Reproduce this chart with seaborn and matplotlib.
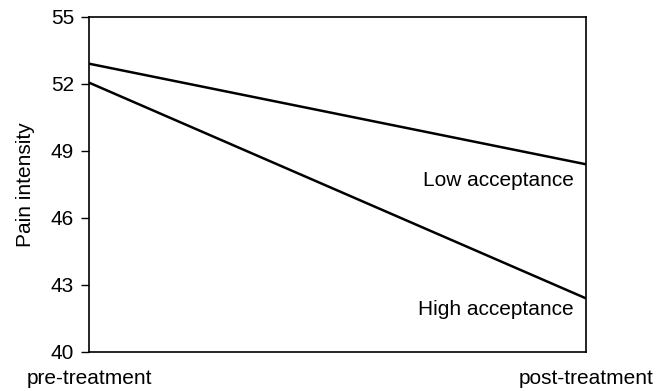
import pandas as pd
import matplotlib.pyplot as plt
import seaborn as sns

# values
phases = ['pre-treatment', 'post-treatment']
low_acceptance = [52.9, 48.4]
high_acceptance = [52.05, 42.4]
y_ticks = [40, 43, 46, 49, 52, 55]

df = pd.DataFrame({
    'phase': [0, 1, 0, 1],
    'pain': low_acceptance + high_acceptance,
    'group': ['Low acceptance'] * 2 + ['High acceptance'] * 2,
})

sns.set_style('white')
plt.rcParams['font.family'] = ['Liberation Sans', 'DejaVu Sans']
for k in ['text.color', 'axes.labelcolor', 'xtick.color', 'ytick.color']:
    plt.rcParams[k] = 'black'

fig, ax = plt.subplots(figsize=(6.56, 3.91), dpi=100)
sns.lineplot(data=df, x='phase', y='pain', units='group', estimator=None,
             color='black', linewidth=1.8, ax=ax, legend=False)

ax.set_xlim(0, 1)
ax.set_ylim(40, 55)
ax.set_yticks(y_ticks)
ax.set_xticks([0, 1])
ax.set_xticklabels(phases)
ax.tick_params(axis='x', length=0, pad=12, labelsize=15)
ax.tick_params(axis='y', length=6, width=1, left=True, labelsize=15, pad=5)
ax.set_xlabel('')
ax.set_ylabel('Pain intensity', fontsize=15, labelpad=11)

for s in ax.spines.values():
    s.set_color('black')
    s.set_linewidth(1.2)

ax.text(0.976, 47.66, 'Low acceptance', ha='right', va='center', fontsize=15)
ax.text(0.976, 41.88, 'High acceptance', ha='right', va='center', fontsize=15)

fig.subplots_adjust(left=0.136, right=0.893, top=0.957, bottom=0.1)
fig.savefig('out.png', dpi=100)
